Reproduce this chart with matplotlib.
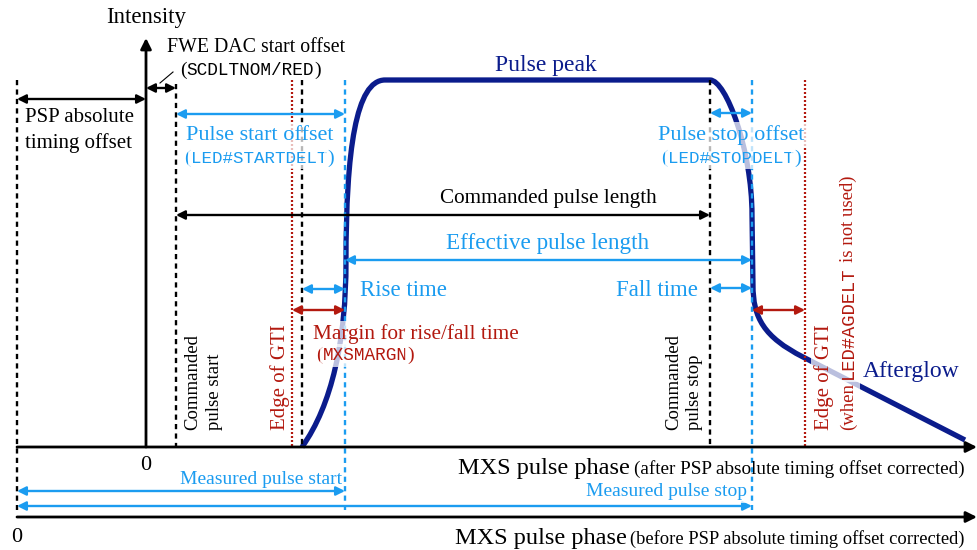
import matplotlib
matplotlib.use("Agg")
import matplotlib.pyplot as plt
from matplotlib.path import Path
from matplotlib.patches import PathPatch

SERIF = "Liberation Serif"
MONO = "Liberation Mono"
NAVY = "#0b1c8c"
BLUE = "#1b9cf0"
RED = "#b3190f"
BLACK = "black"

# Timing marks along the phase axis (drawing units = pixels)
zero_before = 17      # phase zero before the PSP absolute timing correction
zero_after = 146      # phase zero after correction (intensity axis)
cmd_start = 176       # commanded pulse start
gti_start = 292       # leading edge of GTI
rise_begin = 302      # light output begins
meas_start = 345      # measured pulse start
cmd_stop = 710        # commanded pulse stop
meas_stop = 752       # measured pulse stop
gti_stop = 805        # trailing edge of GTI (no AGDELT)

axis_y = 447          # upper phase axis
lower_axis_y = 517    # lower phase axis
mark_top = 80         # top of the vertical guide lines

# Pulse intensity profile: Bezier vertices and path codes
pulse_x = [302, 332, 346, 346, 346, 356, 385, 710, 726, 752, 752, 753, 753, 764, 803, 965]
pulse_y = [447, 405, 340, 262, 150, 80, 80, 80, 80, 150, 215, 285, 318, 337, 357, 440]
pulse_codes = [Path.MOVETO,
               Path.CURVE4, Path.CURVE4, Path.CURVE4,
               Path.CURVE4, Path.CURVE4, Path.CURVE4,
               Path.LINETO,
               Path.CURVE4, Path.CURVE4, Path.CURVE4,
               Path.LINETO,
               Path.CURVE4, Path.CURVE4, Path.CURVE4,
               Path.LINETO]

fig = plt.figure(figsize=(9.77, 5.5), dpi=100)
ax = fig.add_axes([0, 0, 1, 1])
ax.set_xlim(0, 977)
ax.set_ylim(550, 0)
ax.axis("off")
renderer = fig.canvas.get_renderer()

FADE = dict(boxstyle="square,pad=0.15", fc="white", ec="none", alpha=0.72)


def vline(x, y0, y1, color, style):
    if style == "dash":
        ax.plot([x, x], [y0, y1], color=color, lw=1.7, dashes=(2.2, 1.8), zorder=3)
    else:
        ax.plot([x, x], [y0, y1], color=color, lw=1.6, dashes=(0.9, 0.9), zorder=3)


def darrow(x0, x1, y, color, lw=1.7, ms=13):
    ax.annotate("", xy=(x1, y), xytext=(x0, y),
                arrowprops=dict(arrowstyle="<|-|>", color=color, lw=lw,
                                mutation_scale=ms, shrinkA=0, shrinkB=0),
                zorder=4)


def runs(x, y, parts, size, color, rotation=0, align="left", fade=False, gap=0):
    """Place text pieces in mixed fonts along one baseline."""
    items = []
    for s, fam, *rest in parts:
        sz = rest[0] if rest else size
        t = ax.text(0, 0, s, fontsize=sz, family=fam, color=color,
                    rotation=rotation, rotation_mode="anchor",
                    ha="left", va="baseline", zorder=6,
                    bbox=FADE if fade else None)
        ext = t.get_window_extent(renderer)
        items.append((t, ext.width if rotation == 0 else ext.height))
    total = sum(w for _, w in items) + gap * (len(items) - 1)
    pos = -{"left": 0, "center": total / 2, "right": total}[align]
    for t, w in items:
        if rotation == 0:
            t.set_position((x + pos, y))
        else:
            t.set_position((x, y - pos))
        pos += w + gap


def label(x, y, s, size=15, color=BLACK, family=SERIF, ha="center", fade=False, **kw):
    ax.text(x, y, s, fontsize=size, family=family, color=color, ha=ha, va="center",
            zorder=6, bbox=FADE if fade else None, **kw)


# Axes of the diagram
for y0, y1, xa, xb in [(axis_y, axis_y, zero_before, 977),
                       (lower_axis_y, lower_axis_y, zero_before, 977),
                       (axis_y, 38, zero_after, zero_after)]:
    ax.annotate("", xy=(xb, y1), xytext=(xa, y0),
                arrowprops=dict(arrowstyle="-|>", color=BLACK, lw=2, mutation_scale=16,
                                shrinkA=0, shrinkB=0), zorder=4)

# Pulse profile
pulse = Path(list(zip(pulse_x, pulse_y)), pulse_codes)
ax.add_patch(PathPatch(pulse, fc="none", ec=NAVY, lw=3.8, capstyle="butt",
                       joinstyle="round", zorder=2))

# Vertical guide lines
vline(zero_before, mark_top, 510, BLACK, "dash")
vline(cmd_start, 84, axis_y, BLACK, "dash")
vline(gti_start, mark_top, axis_y, RED, "dot")
vline(rise_begin, mark_top, axis_y, BLACK, "dash")
vline(meas_start, mark_top, 510, BLUE, "dash")
vline(cmd_stop, mark_top, axis_y, BLACK, "dash")
vline(meas_stop, mark_top, 510, BLUE, "dash")
vline(gti_stop, mark_top, axis_y, RED, "dot")

# Interval arrows
darrow(zero_before, zero_after, 99, BLACK)
darrow(zero_after, cmd_start, 88, BLACK)
darrow(cmd_start, meas_start, 114, BLUE)
darrow(cmd_stop, meas_stop, 113, BLUE)
darrow(cmd_start, cmd_stop, 215, BLACK)
darrow(meas_start, meas_stop, 260, BLUE)
darrow(rise_begin, meas_start, 289, BLUE)
darrow(cmd_stop, meas_stop, 288, BLUE)
darrow(gti_start, meas_start, 310, RED)
darrow(meas_stop, gti_stop, 310, RED)
darrow(zero_before, meas_start, 491, BLUE)
darrow(zero_before, meas_stop, 506, BLUE)
ax.plot([160, 173], [83, 72], color=BLACK, lw=0.8, zorder=4)

# Labels
label(zero_after, 18, "Intensity", size=16.5)
label(167, 48, "FWE DAC start offset", size=14.3, ha="left")
runs(180, 75, [("(", SERIF, 14), ("SCDLTNOM/RED", MONO), (")", SERIF, 14)], 12.8, BLACK)
label(25, 118, "PSP absolute", ha="left")
label(25, 143, "timing offset", ha="left")
label(260, 135, "Pulse start offset", size=16, color=BLUE, fade=True)
runs(259, 163, [("(", SERIF, 14), ("LED#STARTDELT", MONO), (")", SERIF, 14)], 12.6, BLUE,
     align="center", fade=True)
label(546, 66, "Pulse peak", size=17, color=NAVY)
label(731, 135, "Pulse stop offset", size=16, color=BLUE, fade=True)
runs(731, 163, [("(", SERIF, 14), ("LED#STOPDELT", MONO), (")", SERIF, 14)], 12.6, BLUE,
     align="center", fade=True)
label(548, 199, "Commanded pulse length", size=15.2)
label(548, 243, "Effective pulse length", size=16.7, color=BLUE)
label(360, 290, "Rise time", size=16.5, color=BLUE, ha="left")
label(698, 290, "Fall time", size=16.5, color=BLUE, ha="right")
label(313, 334, "Margin for rise/fall time", size=15.3, color=RED, ha="left", fade=True)
runs(316, 360, [("(", SERIF, 14), ("MXSMARGN", MONO), (")", SERIF, 14)], 12.8, RED, fade=True)
label(863, 372, "Afterglow", size=17, color=NAVY, ha="left")

# Rotated marker labels
runs(197, 430, [("Commanded", SERIF)], 13.5, BLACK, rotation=90)
runs(219, 430, [("pulse start", SERIF)], 13.5, BLACK, rotation=90)
runs(285, 430, [("Edge of GTI", SERIF)], 15, RED, rotation=90)
runs(678, 430, [("Commanded", SERIF)], 13.5, BLACK, rotation=90)
runs(699, 430, [("pulse stop", SERIF)], 13.5, BLACK, rotation=90)
runs(829, 430, [("Edge of GTI", SERIF)], 15, RED, rotation=90, fade=True)
runs(853, 430, [("(when", SERIF), ("LED#AGDELT", MONO), ("is not used)", SERIF)],
     13.5, RED, rotation=90, fade=True, gap=4)

# Phase axis captions
label(zero_after, 465, "0", size=16)
label(zero_before, 537, "0", size=16)
runs(965, 474, [("MXS pulse phase", SERIF, 17.5),
                ("(after PSP absolute timing offset corrected)", SERIF, 13.8)],
     14, BLACK, align="right", gap=4)
runs(965, 544, [("MXS pulse phase", SERIF, 17.5),
                ("(before PSP absolute timing offset corrected)", SERIF, 13.35)],
     14, BLACK, align="right", gap=4)
label(261, 480, "Measured pulse start", size=14, color=BLUE)
label(666, 492, "Measured pulse stop", size=14, color=BLUE, fade=True)

fig.savefig("out.png", dpi=100)
